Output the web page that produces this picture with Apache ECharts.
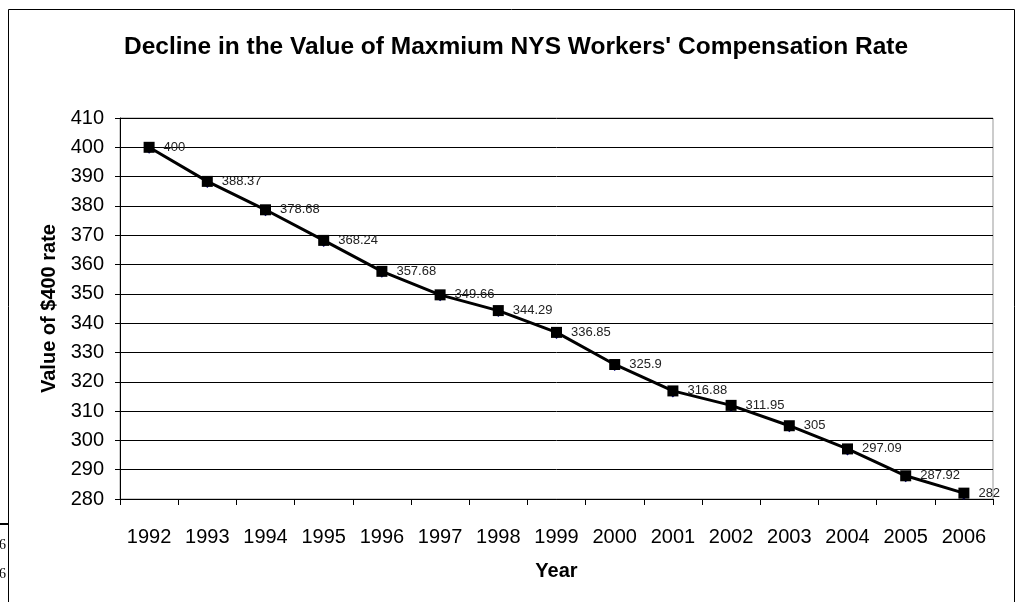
<!DOCTYPE html>
<html>
<head>
<meta charset="utf-8">
<script src="https://cdn.jsdelivr.net/npm/echarts@6/dist/echarts.min.js"></script>
<style>
  html, body { margin: 0; padding: 0; background: #fff; }
  #chart { width: 1024px; height: 602px; }
</style>
</head>
<body>
<div id="chart"></div>
<script>
// years on the x axis
const years = ["1992", "1993", "1994", "1995", "1996", "1997", "1998", "1999",
  "2000", "2001", "2002", "2003", "2004", "2005", "2006"];
// value of the $400 rate
const values = [400, 388.37, 378.68, 368.24, 357.68, 349.66, 344.29, 336.85,
  325.9, 316.88, 311.95, 305, 297.09, 287.92, 282];

const font = "'Liberation Sans', Arial, sans-serif";
const chart = echarts.init(document.getElementById("chart"));

chart.setOption({
  animation: false,
  title: {
    text: "Decline in the Value of Maxmium NYS Workers' Compensation Rate",
    left: 511,
    textAlign: "center",
    top: 30,
    textStyle: { fontFamily: font, fontSize: 24.5, fontWeight: "bold", color: "#000" },
  },
  grid: {
    left: 120,
    right: 31,
    top: 118,
    bottom: 103,
    show: true,
    borderColor: "#999",
    borderWidth: 1,
  },
  xAxis: {
    type: "category",
    data: years,
    boundaryGap: true,
    name: "Year",
    nameLocation: "middle",
    nameGap: 62,
    nameTextStyle: { fontFamily: font, fontSize: 20, fontWeight: "bold", color: "#000" },
    axisLine: { lineStyle: { color: "#000", width: 1 } },
    axisTick: { show: true, alignWithLabel: false, length: 6, lineStyle: { color: "#000" } },
    axisLabel: { fontFamily: font, fontSize: 20, color: "#000", margin: 28 },
    splitLine: { show: false },
  },
  yAxis: {
    type: "value",
    min: 280,
    max: 410,
    interval: 10,
    name: "Value of $400 rate",
    nameLocation: "middle",
    nameGap: 57,
    nameTextStyle: { fontFamily: font, fontSize: 20, fontWeight: "bold", color: "#000" },
    axisLine: { show: true, lineStyle: { color: "#000", width: 1 } },
    axisTick: { show: true, length: 5, lineStyle: { color: "#000" } },
    axisLabel: { fontFamily: font, fontSize: 20, color: "#000", margin: 16 },
    splitLine: { show: true, lineStyle: { color: "#000", width: 1 } },
  },
  series: [
    {
      type: "line",
      data: values,
      symbol: "diamond",
      symbolSize: 9,
      symbolOffset: [0, 2],
      itemStyle: { color: "#000080" },
      lineStyle: { width: 0 },
      z: 2,
    },
    {
      type: "line",
      data: values,
      symbol: "rect",
      symbolSize: 11,
      itemStyle: { color: "#000" },
      lineStyle: { color: "#000", width: 3 },
      label: {
        show: true,
        position: "right",
        distance: 9,
        fontFamily: font,
        fontSize: 13,
        color: "#222",
      },
      z: 3,
    },
  ],
  graphic: [
    {
      type: "rect",
      shape: { x: 8.5, y: 9.5, width: 1006, height: 620 },
      style: { fill: null, stroke: "#000", lineWidth: 1 },
      silent: true,
    },
    {
      type: "line",
      shape: { x1: 0, y1: 524, x2: 8, y2: 524 },
      style: { stroke: "#000", lineWidth: 2 },
    },
    {
      type: "text",
      x: -1,
      y: 538,
      style: { text: "6", font: "14px 'Liberation Serif', serif", fill: "#000" },
    },
    {
      type: "text",
      x: -1,
      y: 567,
      style: { text: "6", font: "14px 'Liberation Serif', serif", fill: "#000" },
    },
  ],
});
</script>
</body>
</html>
